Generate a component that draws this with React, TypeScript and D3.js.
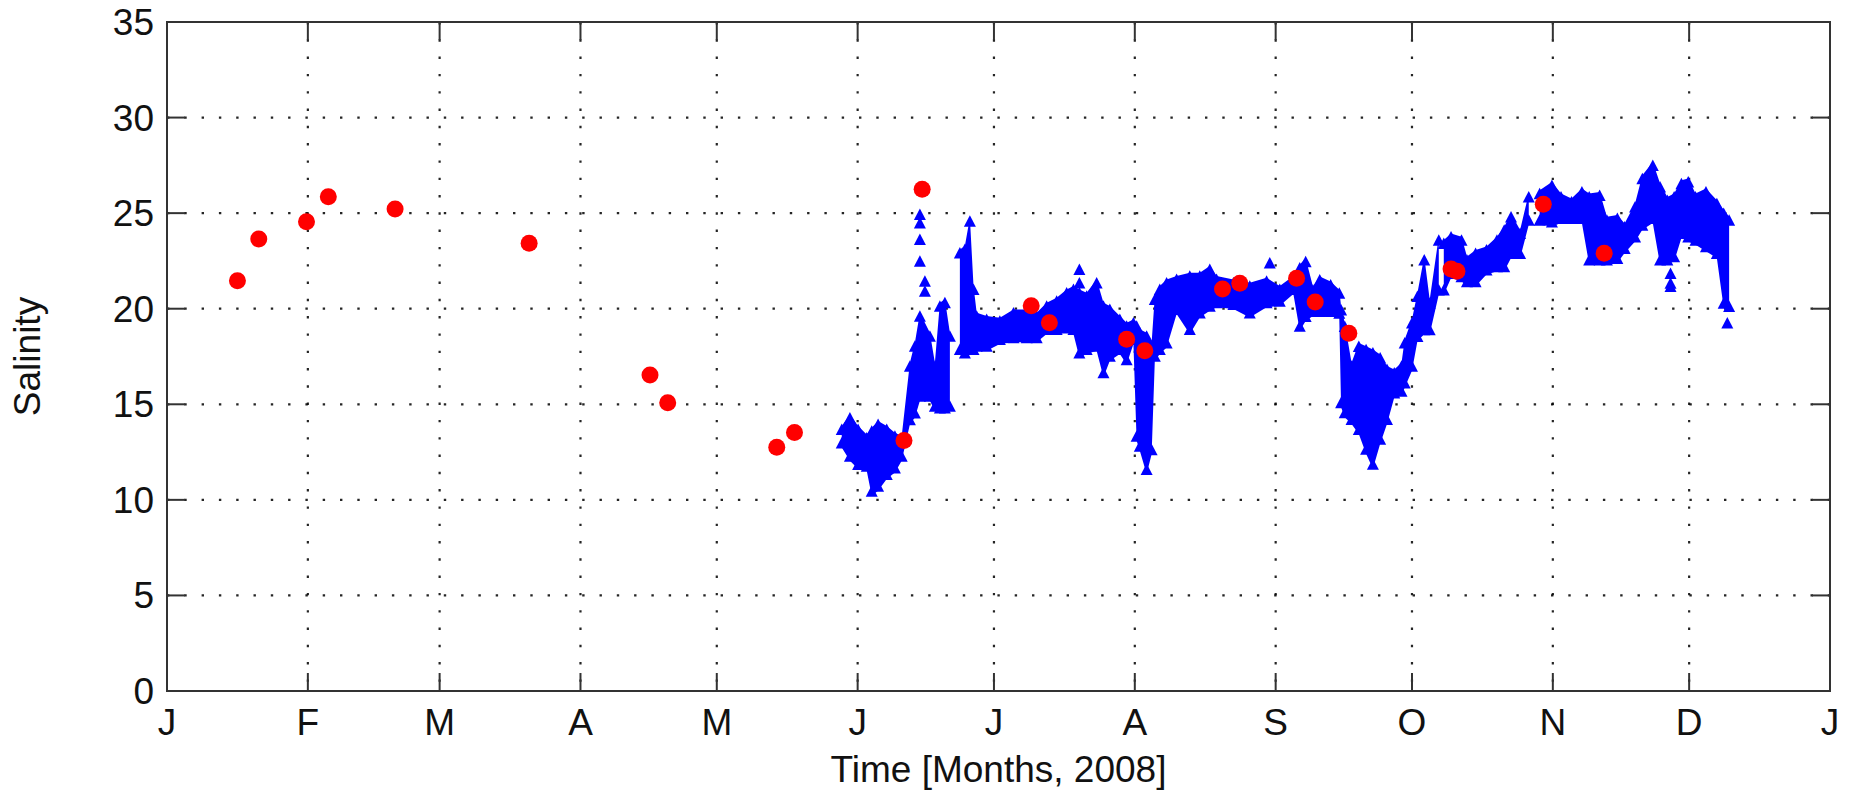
import React from "react";
import * as d3 from "d3";

// ---------- data ----------
const monthLabels = ["J", "F", "M", "A", "M", "J", "J", "A", "S", "O", "N", "D", "J"];
const yTicks = [0, 5, 10, 15, 20, 25, 30, 35];

// discrete bottle samples (red circles): day of year 2008, salinity
const bottleDay = [15.5, 20.2, 30.7, 35.5, 50.2, 79.7, 106.3, 110.2, 134.2, 138.1, 162.2, 166.2, 190.2, 194.2, 211.2, 215.2, 232.3, 236.1, 248.6, 252.7, 260.1, 282.6, 283.9, 302.9, 316.3];
const bottleSal = [21.46, 23.65, 24.55, 25.86, 25.22, 23.42, 16.53, 15.08, 12.75, 13.52, 13.1, 26.25, 20.16, 19.27, 18.4, 17.8, 21.03, 21.33, 21.59, 20.35, 18.72, 22.08, 21.96, 25.47, 22.9];

// continuous sensor record (blue triangles): envelope of readings per sample day
const sensorSeg = [
  0, 0, 0, 0, 0, 0, 0, 0, 0, 0, 0, 0, 0, 0, 0, 0, 0,
  1, 1, 1, 1, 1, 1, 1, 1, 1, 1, 1, 1, 1, 1, 1, 1, 1, 1, 1, 1, 1, 1, 1, 1, 1, 1, 1, 1, 1, 1, 1, 1, 1, 1, 1, 1, 1, 1, 1, 1,
  1, 1, 1, 1, 1, 1, 1, 1, 1, 1, 1, 1, 1, 1, 1, 1, 1, 1, 1, 1, 1,
  2, 2, 2, 2, 2, 2, 2, 2, 2, 2, 2,
  3, 3, 3, 3, 3, 3, 3, 3, 3, 3, 3, 3, 3, 3, 3, 3, 3, 3, 3, 3, 3, 3, 3, 3,
];
const sensorDay = [
  148.5, 150.3, 152.1, 154.0, 155.1, 156.5, 158.4, 160.2, 161.7, 163.5, 164.6, 165.7, 167.9, 169.0, 170.1, 171.2, 172.3,
  174.5, 175.6, 176.7, 177.5, 178.2, 180.4, 183.3, 186.3, 189.2, 191.4, 193.6, 195.8, 198.0, 199.5, 200.8, 202.4, 204.6, 206.1, 207.5, 209.7, 211.2, 212.7, 213.4, 214.1, 215.6, 216.7, 217.4, 218.5, 220.0, 222.2, 225.1, 227.3, 229.5, 231.0, 234.7, 238.3, 242.0, 244.9, 247.9, 249.3,
  250.6, 252.2, 253.7, 256.1, 258.0, 258.4, 259.2, 260.7, 262.3, 263.9, 265.4, 267.0, 268.5, 270.1, 271.7, 272.4, 274.0, 275.2, 276.7, 277.9,
  279.9, 281.0, 282.6, 284.9, 286.1, 288.0, 290.4, 292.7, 294.3, 295.8, 297.8,
  299.7, 302.1, 304.8, 306.8, 309.1, 311.4, 313.0, 315.3, 316.9, 319.2, 320.8, 323.1, 324.7, 327.0, 328.6, 330.2, 331.7, 333.3, 334.8, 336.4, 338.7, 341.1, 342.6, 343.8,
];
const sensorHi = [
  13.65, 14.26, 13.65, 13.21, 13.56, 13.91, 13.65, 13.3, 13.13, 16.96, 18.01, 19.58, 18.53, 16.96, 20.1, 20.28, 18.53,
  22.89, 23.07, 24.55, 20.98, 19.58, 19.41, 19.32, 19.75, 19.75, 19.58, 20.1, 20.36, 20.8, 20.98, 20.8, 20.63, 21.32, 20.1, 19.93, 19.41, 19.06, 19.23, 19.06, 18.71, 18.53, 18.01, 20.45, 20.98, 21.32, 21.5, 21.67, 21.67, 22.02, 21.5, 21.32, 21.15, 21.41, 20.98, 21.5, 22.11,
  22.43, 20.95, 21.48, 21.22, 20.78, 19.91, 19.04, 16.96, 18.0, 17.83, 17.66, 17.4, 16.79, 16.61, 16.96, 18.18, 19.22, 20.61, 22.52, 20.26,
  23.56, 23.39, 23.73, 23.56, 22.52, 22.86, 23.04, 23.56, 24.08, 24.77, 23.91,
  25.82, 25.99, 26.42, 25.82, 25.56, 26.08, 25.82, 25.9, 24.6, 24.69, 24.25, 25.3, 26.77, 27.47, 26.34, 25.64, 25.82, 26.51, 26.6, 25.82, 26.08, 25.47, 24.95, 24.6,
];
const sensorLo = [
  12.95, 12.26, 11.82, 11.73, 10.42, 10.69, 11.3, 11.64, 12.26, 14.17, 14.52, 15.39, 15.39, 14.87, 14.78, 14.78, 14.87,
  17.84, 17.66, 17.84, 17.84, 18.01, 18.01, 18.36, 18.45, 18.45, 18.45, 18.88, 18.88, 18.97, 18.88, 17.66, 17.84, 18.01, 16.62, 17.49, 17.84, 17.31, 18.36, 13.3, 12.78, 11.56, 12.6, 17.49, 17.84, 18.18, 19.93, 18.88, 19.75, 20.1, 20.28, 20.19, 19.75, 20.28, 20.36, 20.98, 19.06,
  19.57, 19.83, 19.83, 19.83, 19.74, 15.05, 14.53, 14.18, 13.66, 12.62, 11.84, 13.14, 14.18, 15.57, 15.66, 16.09, 16.96, 18.52, 18.87, 18.87,
  20.95, 20.95, 21.82, 21.65, 21.39, 21.39, 22.0, 22.17, 22.17, 22.86, 22.86,
  24.6, 24.6, 24.51, 24.69, 24.69, 24.69, 22.52, 22.52, 22.52, 22.6, 23.13, 23.73, 24.34, 24.69, 22.52, 22.52, 22.69, 23.91, 23.73, 23.56, 23.21, 22.86, 20.26, 20.09,
];
// isolated sensor readings outside the main envelope
const spikeDay = [165.7, 165.7, 165.7, 165.7, 166.8, 166.8, 200.8, 200.8, 242.7, 330.9, 330.9, 330.9, 343.4];
const spikeSal = [24.9, 24.46, 23.59, 22.46, 21.41, 20.89, 22.02, 21.32, 22.37, 21.82, 21.3, 21.13, 19.22];

// ---------- layout ----------
const W = 1852;
const H = 790;
const L = 167;
const R = 1830;
const T = 22;
const B = 691;
const FONT = "'Liberation Sans', Arial, Helvetica, sans-serif";
const FS = 37;

const t0 = Date.UTC(2008, 0, 1);
const toDate = (d: number) => new Date(t0 + d * 86400000);

export default function App() {
  const x = d3.scaleUtc().domain([new Date(Date.UTC(2008, 0, 1)), new Date(Date.UTC(2009, 0, 1))]).range([L, R]);
  const y = d3.scaleLinear().domain([0, 35]).range([B, T]);
  const monthTicks = d3.utcMonth.range(new Date(Date.UTC(2008, 0, 1)), new Date(Date.UTC(2009, 0, 2)));

  const rows = sensorDay.map((d, i) => ({ d, hi: sensorHi[i], lo: sensorLo[i], s: sensorSeg[i] }));
  const segs = d3.groups(rows, (r) => r.s).map((g) => g[1]);
  const area = d3
    .area<{ d: number; hi: number; lo: number }>()
    .x((r) => x(toDate(r.d)))
    .y0((r) => y(r.lo) + 4)
    .y1((r) => y(r.hi) - 4);

  const tri = "M0,-6.5 L6,5 L-6,5 Z";
  const markers: [number, number][] = [];
  rows.forEach((r) => {
    markers.push([r.d, r.hi]);
    markers.push([r.d, r.lo]);
  });
  spikeDay.forEach((d, i) => markers.push([d, spikeSal[i]]));

  const gridStroke = "#000";
  const axisColor = "#333";

  return (
    <svg
      width={W}
      height={H}
      style={{ position: "absolute", left: 0, top: 0, background: "#fff" }}
      fontFamily={FONT}
    >
      <rect x={0} y={0} width={W} height={H} fill="#fff" />
      {/* grid */}
      {yTicks
        .filter((v) => v > 0 && v < 35)
        .map((v) => (
          <line key={"gy" + v} x1={L} x2={R} y1={y(v)} y2={y(v)} stroke={gridStroke} strokeWidth={2.2} strokeDasharray="2.4 14.9" opacity={0.85} />
        ))}
      {monthTicks.slice(1, -1).map((m, i) => (
        <line key={"gx" + i} x1={x(m)} x2={x(m)} y1={T} y2={B} stroke={gridStroke} strokeWidth={2.2} strokeDasharray="2.4 14.9" opacity={0.85} />
      ))}

      {/* sensor band */}
      {segs.map((sg, i) => (
        <path key={"a" + i} d={area(sg) || ""} fill="#0000ff" />
      ))}
      {markers.map(([d, v], i) => (
        <path key={"m" + i} d={tri} transform={`translate(${x(toDate(d))},${y(v)})`} fill="#0000ff" />
      ))}

      {/* bottle samples */}
      {bottleDay.map((d, i) => (
        <circle key={"c" + i} cx={x(toDate(d))} cy={y(bottleSal[i])} r={8.5} fill="#ff0000" />
      ))}

      {/* ticks */}
      {yTicks.map((v) => (
        <g key={"ty" + v}>
          <line x1={L} x2={L + 18} y1={y(v)} y2={y(v)} stroke={axisColor} strokeWidth={2} />
          <line x1={R - 18} x2={R} y1={y(v)} y2={y(v)} stroke={axisColor} strokeWidth={2} />
          <text x={154} y={y(v) + 13} textAnchor="end" fontSize={FS} fill="#111">
            {v}
          </text>
        </g>
      ))}
      {monthTicks.map((m, i) => (
        <g key={"tx" + i}>
          <line x1={x(m)} x2={x(m)} y1={B} y2={B - 18} stroke={axisColor} strokeWidth={2} />
          <line x1={x(m)} x2={x(m)} y1={T} y2={T + 18} stroke={axisColor} strokeWidth={2} />
          <text x={x(m)} y={735} textAnchor="middle" fontSize={FS} fill="#111">
            {monthLabels[i]}
          </text>
        </g>
      ))}

      {/* box */}
      <rect x={L} y={T} width={R - L} height={B - T} fill="none" stroke={axisColor} strokeWidth={2} />

      {/* axis titles */}
      <text x={(L + R) / 2} y={782} textAnchor="middle" fontSize={FS} fill="#111">
        Time [Months, 2008]
      </text>
      <text transform={`translate(40,${(T + B) / 2}) rotate(-90)`} textAnchor="middle" fontSize={FS} fill="#111">
        Salinity
      </text>
    </svg>
  );
}
